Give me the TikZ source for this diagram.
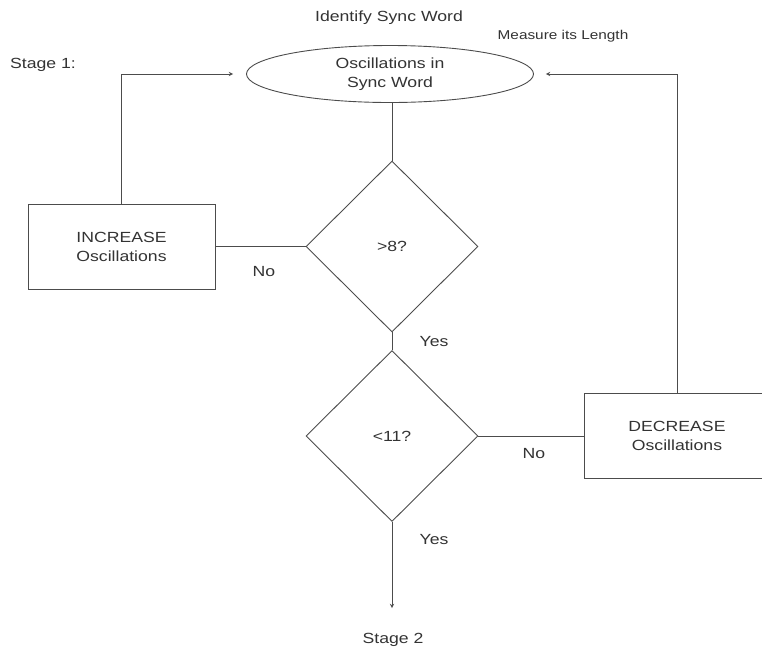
\documentclass[tikz,border=0pt]{standalone}
\usepackage{fontspec}
\setmainfont{Liberation Sans}[FakeStretch=1.2]
\usetikzlibrary{shapes.geometric}

\begin{document}
\begin{tikzpicture}[>=stealth, x=1pt, y=-1pt]

  % Styles
  \tikzset{
    every node/.style={text=black!80, font=\fontsize{14.7}{19}\selectfont},
    flow/.style={draw=black!70, line width=0.9pt},
    start/.style={flow, ellipse, minimum width=287pt, minimum height=57pt, align=center, inner sep=0pt},
    decision/.style={flow, diamond, minimum width=172pt, minimum height=171pt, inner sep=0pt},
    box/.style={flow, rectangle, minimum width=187pt, minimum height=85pt, align=center, inner sep=0pt},
    label style/.style={inner sep=0pt},
    small label/.style={inner sep=0pt, font=\fontsize{12.8}{15}\selectfont}
  }

  \useasboundingbox (0,0) rectangle (762,649);

  % --- Shapes ---
  \node[start] (osc) at (390,74) {Oscillations in\\Sync Word};
  \node[decision] (gt) at (392,246.5) {>8?};
  \node[decision] (lt) at (392,436) {<11?};
  \node[box] (inc) at (121.5,246.5) {INCREASE\\Oscillations};
  \node[box, minimum width=186pt] (dec) at (677,436) {DECREASE\\Oscillations};
  \coordinate (out) at (392,608);

  % --- Labels ---
  \node[label style] (identify) at (389,18) {Identify Sync Word};
  \node[small label] (measure) at (563,36) {Measure its Length};
  \node[label style, anchor=west] (stage1) at (10,65) {Stage 1:};
  \node[label style] (stage2) at (393,640) {Stage 2};
  \node[label style] (no1) at (264,272) {No};
  \node[label style] (yes1) at (434,342) {Yes};
  \node[label style] (no2) at (534,454) {No};
  \node[label style] (yes2) at (434,540) {Yes};

  % --- Connectors ---
  \draw[flow] (gt.north) -- (gt.north |- osc.south);
  \draw[flow] (gt.south) -- (lt.north);
  \draw[flow] (inc.east) -- (gt.west);
  \draw[flow] (lt.east) -- (dec.west);
  \draw[flow, ->, shorten >=13pt] (inc.north) |- (osc.west);
  \draw[flow, ->, shorten >=12pt] (dec.north) |- (osc.east);
  \draw[flow, ->] (lt.south) -- (out);

\end{tikzpicture}
\end{document}
